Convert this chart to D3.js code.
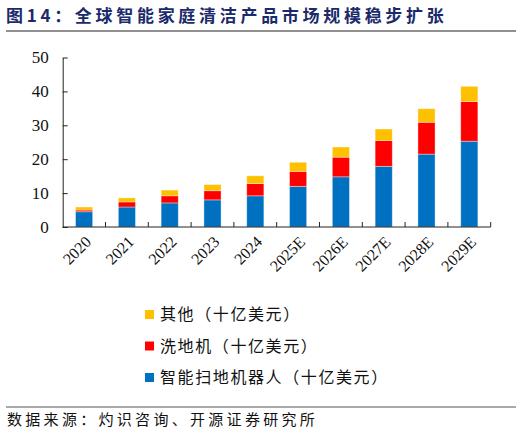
<!DOCTYPE html>
<html>
<head>
<meta charset="utf-8">
<script src="https://cdn.jsdelivr.net/npm/d3@7"></script>
<style>
  body { margin: 0; background: #fff; }
  svg { display: block; }
</style>
</head>
<body>
<div id="chart"></div>
<script>
var years = ["2020", "2021", "2022", "2023", "2024", "2025E", "2026E", "2027E", "2028E", "2029E"];
var robot = [4.5, 5.9, 7.1, 8.0, 9.2, 12.0, 14.8, 17.9, 21.5, 25.3];
var washer = [0.5, 1.5, 2.1, 2.7, 3.6, 4.4, 5.8, 7.6, 9.4, 11.7];
var other = [0.9, 1.2, 1.7, 1.8, 2.3, 2.7, 3.0, 3.4, 4.0, 4.5];
var seriesKeys = ["robot", "washer", "other"];
var seriesNames = ["智能扫地机器人（十亿美元）", "洗地机（十亿美元）", "其他（十亿美元）"];
var seriesColors = ["#0070C0", "#FF0000", "#FFC000"];
var yTicks = [0, 10, 20, 30, 40, 50];

var svgWidth = 522;
var svgHeight = 436;

var margin = { top: 57.5, left: 62.7, right: 31.3, bottom: 209 };
var width = svgWidth - margin.left - margin.right;
var height = svgHeight - margin.top - margin.bottom;

var svg = d3.select("#chart")
  .append("svg")
  .attr("width", svgWidth)
  .attr("height", svgHeight);

// title
svg.append("text")
  .attr("x", 6)
  .attr("y", 22)
  .attr("fill", "#1b2a6b")
  .attr("font-family", "'Noto Sans CJK SC'")
  .attr("font-weight", "bold")
  .attr("font-size", "17px")
  .attr("letter-spacing", "3.7px")
  .text("图14：全球智能家庭清洁产品市场规模稳步扩张");

svg.append("line")
  .attr("x1", 6).attr("x2", 516)
  .attr("y1", 31).attr("y2", 31)
  .attr("stroke", "#222")
  .attr("stroke-width", 1.2);

var chartGroup = svg.append("g")
  .attr("transform", `translate(${margin.left}, ${margin.top})`);

var data = years.map(function(y, i) {
  return { year: y, robot: robot[i], washer: washer[i], other: other[i] };
});

var xScale = d3.scaleBand()
  .domain(years)
  .range([0, width])
  .paddingInner(0.6)
  .paddingOuter(0.3);

var yScale = d3.scaleLinear()
  .domain([0, 50])
  .range([height, 0]);

var stacked = d3.stack().keys(seriesKeys)(data);

chartGroup.selectAll("g.layer")
  .data(stacked)
  .enter()
  .append("g")
  .attr("class", "layer")
  .attr("fill", (d, i) => seriesColors[i])
  .selectAll("rect")
  .data(d => d)
  .enter()
  .append("rect")
  .attr("x", d => xScale(d.data.year))
  .attr("y", d => yScale(d[1]))
  .attr("width", xScale.bandwidth())
  .attr("height", d => yScale(d[0]) - yScale(d[1]))
  .attr("stroke", "#ffffff")
  .attr("stroke-opacity", 0.45)
  .attr("stroke-width", 0.8);

// y axis
var leftAxis = d3.axisLeft(yScale)
  .tickValues(yTicks)
  .tickSize(-5)
  .tickPadding(14)
  .tickSizeOuter(0);

var yAxisG = chartGroup.append("g").call(leftAxis);
yAxisG.selectAll("text")
  .attr("font-family", "'Liberation Serif', serif")
  .attr("font-size", "17px")
  .attr("fill", "#111");
yAxisG.selectAll("line, path").attr("stroke", "#222");

// x axis, ticks between categories
var boundaries = d3.range(years.length + 1).map(i => i * width / years.length);

var xAxisG = chartGroup.append("g")
  .attr("transform", `translate(0, ${height})`);
xAxisG.append("line")
  .attr("x1", 0).attr("x2", width)
  .attr("y1", 0).attr("y2", 0)
  .attr("stroke", "#222");
xAxisG.selectAll("line.tick")
  .data(boundaries.slice(1))
  .enter()
  .append("line")
  .attr("class", "tick")
  .attr("x1", d => d).attr("x2", d => d)
  .attr("y1", 0).attr("y2", -5)
  .attr("stroke", "#222");

xAxisG.selectAll("text")
  .data(years)
  .enter()
  .append("text")
  .attr("transform", d => `translate(${xScale(d) + xScale.bandwidth() / 2 + 4}, 12) rotate(-45)`)
  .attr("text-anchor", "end")
  .attr("dy", "0.35em")
  .attr("font-family", "'Liberation Serif', serif")
  .attr("font-size", "16px")
  .attr("fill", "#111")
  .text(d => d);

// legend
var legendOrder = [2, 1, 0];
var legend = svg.selectAll("g.legend")
  .data(legendOrder)
  .enter()
  .append("g")
  .attr("class", "legend")
  .attr("transform", (d, i) => `translate(145, ${314.5 + i * 31.5})`);

legend.append("rect")
  .attr("x", 0).attr("y", -4.5)
  .attr("width", 9).attr("height", 9)
  .attr("fill", d => seriesColors[d]);

legend.append("text")
  .attr("x", 15)
  .attr("y", 0)
  .attr("dy", "0.36em")
  .attr("font-family", "'Noto Sans CJK SC'")
  .attr("font-size", "16px")
  .attr("letter-spacing", "1.6px")
  .attr("fill", "#111")
  .text(d => seriesNames[d]);

// footer
svg.append("line")
  .attr("x1", 6).attr("x2", 516)
  .attr("y1", 407).attr("y2", 407)
  .attr("stroke", "#555")
  .attr("stroke-width", 1);

svg.append("text")
  .attr("x", 7)
  .attr("y", 425)
  .attr("font-family", "'Noto Sans CJK SC'")
  .attr("font-size", "15px")
  .attr("letter-spacing", "3.3px")
  .attr("fill", "#111")
  .text("数据来源：灼识咨询、开源证券研究所");
</script>
</body>
</html>
